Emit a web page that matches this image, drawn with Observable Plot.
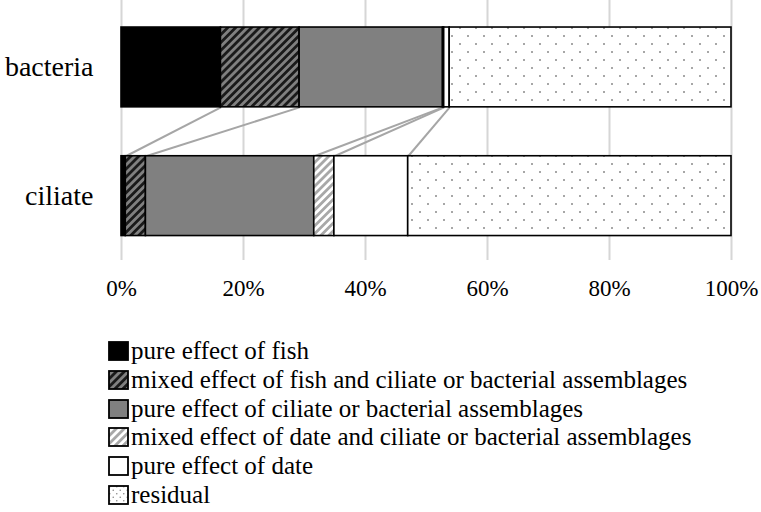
<!DOCTYPE html>
<html>
<head>
<meta charset="utf-8">
<script src="https://cdn.jsdelivr.net/npm/d3@7"></script>
<script src="https://cdn.jsdelivr.net/npm/@observablehq/plot@0.6"></script>
<style>
  body { margin: 0; background: #fff; font-family: "Liberation Serif", "Times New Roman", Tinos, "Nimbus Roman", "Noto Serif", "DejaVu Serif", FreeSerif, serif; }
  #legend { margin-left: 108px; margin-top: 27px; }
  .row { display: flex; align-items: center; height: 28.7px; font-size: 25px; color: #000; white-space: nowrap; }
  .row svg { margin-right: 2px; flex: none; }
</style>
</head>
<body>
<div id="chart"></div>
<div id="legend"></div>
<script>
const categories = ["bacteria", "ciliate"];
const components = [
  "pure effect of fish",
  "mixed effect of fish and ciliate or bacterial assemblages",
  "pure effect of ciliate or bacterial assemblages",
  "mixed effect of date and ciliate or bacterial assemblages",
  "pure effect of date",
  "residual"
];
const bacteriaValues = [16.3, 12.9, 23.5, 0.2, 0.9, 46.2];
const ciliateValues  = [0.7, 3.3, 27.6, 3.3, 12.1, 53.0];
const xTicks = [0, 20, 40, 60, 80, 100];
const fills = ["#000", "url(#hatchDark)", "#808080", "url(#hatchLight)", "#fff", "url(#dots)"];
const serif = '"Liberation Serif", "Times New Roman", Tinos, "Nimbus Roman", "Noto Serif", "DejaVu Serif", FreeSerif, serif';

const seriesByCategory = [bacteriaValues, ciliateValues];
const half = 0.31;

const segments = [];
const cums = [];
seriesByCategory.forEach((vals, ci) => {
  let acc = 0;
  const c = [0];
  vals.forEach((v, k) => {
    segments.push({cat: ci, comp: k, x1: acc, x2: acc + v});
    acc += v;
    c.push(acc);
  });
  cums.push(c);
});
const links = [];
for (let k = 1; k < components.length; k++) {
  links.push({x1: cums[0][k], x2: cums[1][k], y1: 0 + half, y2: 1 - half});
}

const barMarks = components.map((name, k) =>
  Plot.rect(segments.filter(d => d.comp === k), {
    x1: "x1", x2: "x2",
    y1: d => d.cat - half, y2: d => d.cat + half,
    fill: fills[k], stroke: "#000", strokeWidth: 1.6
  })
);

const chart = Plot.plot({
  width: 761,
  height: 310,
  marginLeft: 121,
  marginRight: 30,
  marginTop: 0,
  marginBottom: 50,
  style: {fontFamily: serif, color: "#000", background: "#fff"},
  x: {domain: [0, 100]},
  y: {domain: [-0.52, 1.5], reverse: true},
  marks: [
    Plot.ruleX(xTicks, {stroke: "#d6d6d6", strokeWidth: 2}),
    Plot.link(links, {x1: "x1", x2: "x2", y1: "y1", y2: "y2", stroke: "#a6a6a6", strokeWidth: 2}),
    ...barMarks,
    Plot.axisX({ticks: xTicks, tickFormat: d => d + "%", tickSize: 0, tickPadding: 19, fontSize: 23, label: null}),
    Plot.axisY({ticks: [0, 1], tickFormat: i => categories[i], tickSize: 0, tickPadding: 28, fontSize: 28, label: null})
  ]
});

function patternDefs(suffix, dotStep) {
  const s = dotStep || 16;
  return `
  <pattern id="hatchDark${suffix}" patternUnits="userSpaceOnUse" width="5.6" height="10" patternTransform="rotate(45)">
    <rect width="5.6" height="10" fill="#808080"/>
    <rect width="2.8" height="10" fill="#1a1a1a"/>
  </pattern>
  <pattern id="hatchLight${suffix}" patternUnits="userSpaceOnUse" width="5.6" height="10" patternTransform="rotate(45)">
    <rect width="5.6" height="10" fill="#fff"/>
    <rect width="2.8" height="10" fill="#a8a8a8"/>
  </pattern>
  <pattern id="dots${suffix}" patternUnits="userSpaceOnUse" width="${s}" height="${s}">
    <rect width="${s}" height="${s}" fill="#fff"/>
    <circle cx="${s / 4}" cy="${s / 4}" r="${s > 8 ? 1 : 0.8}" fill="#8a8a8a"/>
    <circle cx="${3 * s / 4}" cy="${3 * s / 4}" r="${s > 8 ? 1 : 0.8}" fill="#8a8a8a"/>
  </pattern>`;
}

const defs = document.createElementNS("http://www.w3.org/2000/svg", "defs");
defs.innerHTML = patternDefs("");
chart.insertBefore(defs, chart.firstChild);
document.getElementById("chart").appendChild(chart);

const legend = document.getElementById("legend");
components.forEach((name, k) => {
  const row = document.createElement("div");
  row.className = "row";
  const sfx = "L" + k;
  const f = fills[k].startsWith("url(#") ? fills[k].replace(")", sfx + ")") : fills[k];
  row.innerHTML = `<svg width="21" height="20"><defs>${patternDefs(sfx, 7)}</defs>
    <rect x="1" y="1" width="19" height="18" fill="${f}" stroke="#000" stroke-width="1.8"/></svg><span>${name}</span>`;
  legend.appendChild(row);
});
</script>
</body>
</html>
